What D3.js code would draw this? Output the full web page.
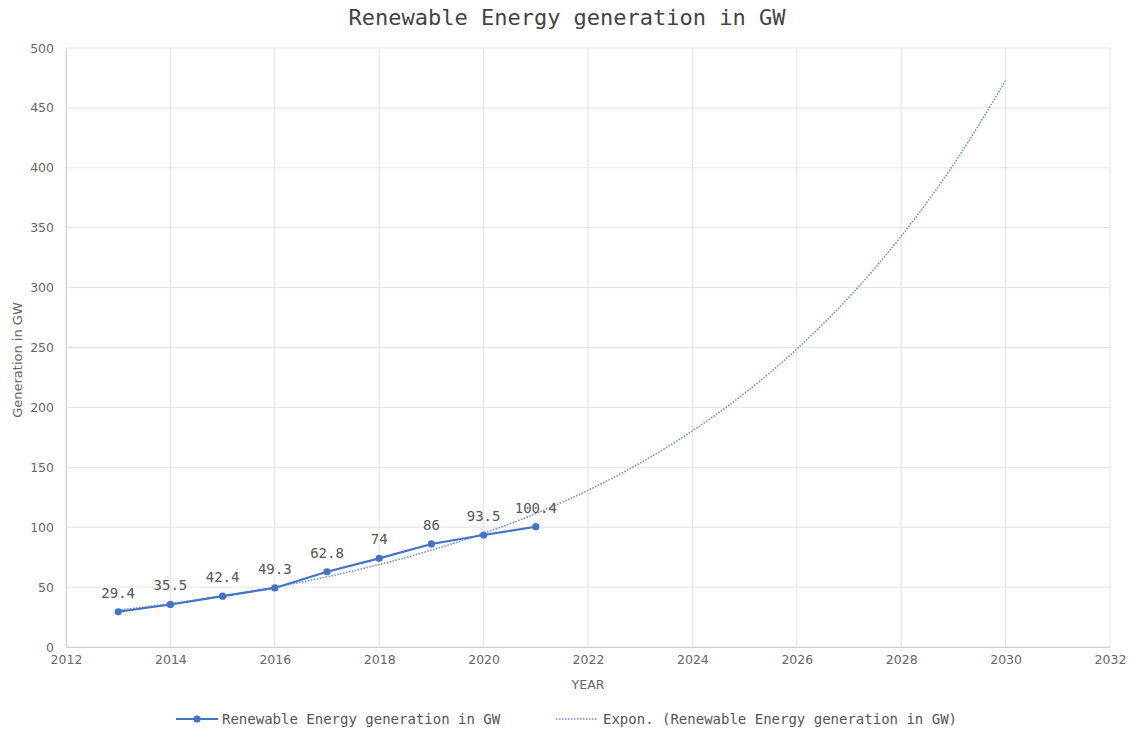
<!DOCTYPE html>
<html>
<head>
<meta charset="utf-8">
<script src="https://cdn.jsdelivr.net/npm/d3@7"></script>
<style>
  html, body { margin: 0; padding: 0; background: #fff; }
  svg { display: block; }
</style>
</head>
<body>
<svg id="chart" width="1139" height="731"></svg>
<script>
// ---- data ----
const years = [2013, 2014, 2015, 2016, 2017, 2018, 2019, 2020, 2021];
const generation = [29.4, 35.5, 42.4, 49.3, 62.8, 74, 86, 93.5, 100.4];
// exponential trendline values at each year
const trendYears = [2013, 2014, 2015, 2016, 2017, 2018, 2019, 2020, 2021, 2022, 2023, 2024, 2025, 2026, 2027, 2028, 2029, 2030];
const trendValues = [30.8, 36.2, 42.5, 49.9, 58.6, 68.8, 80.8, 94.9, 111.4, 130.8, 153.6, 180.4, 211.8, 248.7, 292.0, 342.9, 402.6, 472.8];
const xTicks = [2012, 2014, 2016, 2018, 2020, 2022, 2024, 2026, 2028, 2030, 2032];
const yTicks = [0, 50, 100, 150, 200, 250, 300, 350, 400, 450, 500];
const seriesName = "Renewable Energy generation in GW";
const trendName = "Expon. (Renewable Energy generation in GW)";
const titleText = "Renewable Energy generation in GW";
const xTitle = "YEAR";
const yTitle = "Generation in GW";

// ---- layout ----
const svg = d3.select("#chart");
const margin = { left: 66, top: 48, right: 1110, bottom: 647 };
const blue = "#4472c4";
const mono = "'DejaVu Sans Mono', 'Liberation Mono', monospace";
const sans = "'DejaVu Sans', 'Liberation Sans', sans-serif";

const x = d3.scaleLinear().domain([2012, 2032]).range([margin.left, margin.right]);
const y = d3.scaleLinear().domain([0, 500]).range([margin.bottom, margin.top]);

// gridlines
const grid = svg.append("g");
grid.selectAll(".hg").data(yTicks).join("line")
  .attr("x1", margin.left).attr("x2", margin.right)
  .attr("y1", d => y(d)).attr("y2", d => y(d))
  .attr("stroke", "#e3e3e3").attr("stroke-width", 1);
grid.selectAll(".vg").data(xTicks).join("line")
  .attr("y1", margin.top).attr("y2", margin.bottom)
  .attr("x1", d => x(d)).attr("x2", d => x(d))
  .attr("stroke", "#e3e3e3").attr("stroke-width", 1);

// axes
const xAxis = svg.append("g")
  .attr("transform", `translate(0,${margin.bottom})`)
  .call(d3.axisBottom(x).tickValues(xTicks).tickFormat(d3.format("d")).tickSize(0).tickPadding(8));
xAxis.select(".domain").attr("stroke", "#d0d0d0");
xAxis.selectAll("text").attr("font-family", sans).attr("font-size", 12.5).attr("fill", "#666");

const yAxis = svg.append("g")
  .attr("transform", `translate(${margin.left},0)`)
  .call(d3.axisLeft(y).tickValues(yTicks).tickSize(0).tickPadding(12));
yAxis.select(".domain").attr("stroke", "#d0d0d0");
yAxis.selectAll("text").attr("font-family", sans).attr("font-size", 12.5).attr("fill", "#666");

// titles
svg.append("text").attr("x", 567).attr("y", 25).attr("text-anchor", "middle")
  .attr("font-family", mono).attr("font-size", 22).attr("fill", "#444").text(titleText);
svg.append("text").attr("x", (margin.left + margin.right) / 2).attr("y", 689).attr("text-anchor", "middle")
  .attr("font-family", sans).attr("font-size", 12.5).attr("fill", "#666").text(xTitle);
svg.append("text").attr("transform", `translate(22,${360}) rotate(-90)`).attr("text-anchor", "middle")
  .attr("font-family", sans).attr("font-size", 13).attr("fill", "#666").text(yTitle);

// trendline
const trendData = trendYears.map((yr, i) => ({ x: yr, y: trendValues[i] }));
svg.append("path").datum(trendData)
  .attr("fill", "none").attr("stroke", "#6f8fd6").attr("stroke-width", 1.6)
  .attr("stroke-dasharray", "1.5,1.5")
  .attr("d", d3.line().x(d => x(d.x)).y(d => y(d.y)).curve(d3.curveMonotoneX));

// series
const data = years.map((yr, i) => ({ x: yr, y: generation[i] }));
svg.append("path").datum(data)
  .attr("fill", "none").attr("stroke", blue).attr("stroke-width", 2.2)
  .attr("d", d3.line().x(d => x(d.x)).y(d => y(d.y)));
svg.selectAll(".pt").data(data).join("circle")
  .attr("cx", d => x(d.x)).attr("cy", d => y(d.y)).attr("r", 3.6).attr("fill", blue);

// data labels
svg.selectAll(".lbl").data(data).join("text")
  .attr("x", d => x(d.x)).attr("y", d => y(d.y) - 14)
  .attr("text-anchor", "middle")
  .attr("font-family", mono).attr("font-size", 14).attr("fill", "#555")
  .text(d => d.y);

// legend
const ly = 719;
const lg = svg.append("g");
lg.append("line").attr("x1", 176).attr("x2", 218).attr("y1", ly).attr("y2", ly)
  .attr("stroke", blue).attr("stroke-width", 2.2);
lg.append("circle").attr("cx", 197).attr("cy", ly).attr("r", 3.6).attr("fill", blue);
lg.append("text").attr("x", 222).attr("y", ly + 5)
  .attr("font-family", mono).attr("font-size", 14).attr("fill", "#555").text(seriesName);
lg.append("line").attr("x1", 556).attr("x2", 598).attr("y1", ly).attr("y2", ly)
  .attr("stroke", "#6f8fd6").attr("stroke-width", 1.6).attr("stroke-dasharray", "1.5,1.5");
lg.append("text").attr("x", 603).attr("y", ly + 5)
  .attr("font-family", mono).attr("font-size", 14).attr("fill", "#555").text(trendName);
</script>
</body>
</html>
